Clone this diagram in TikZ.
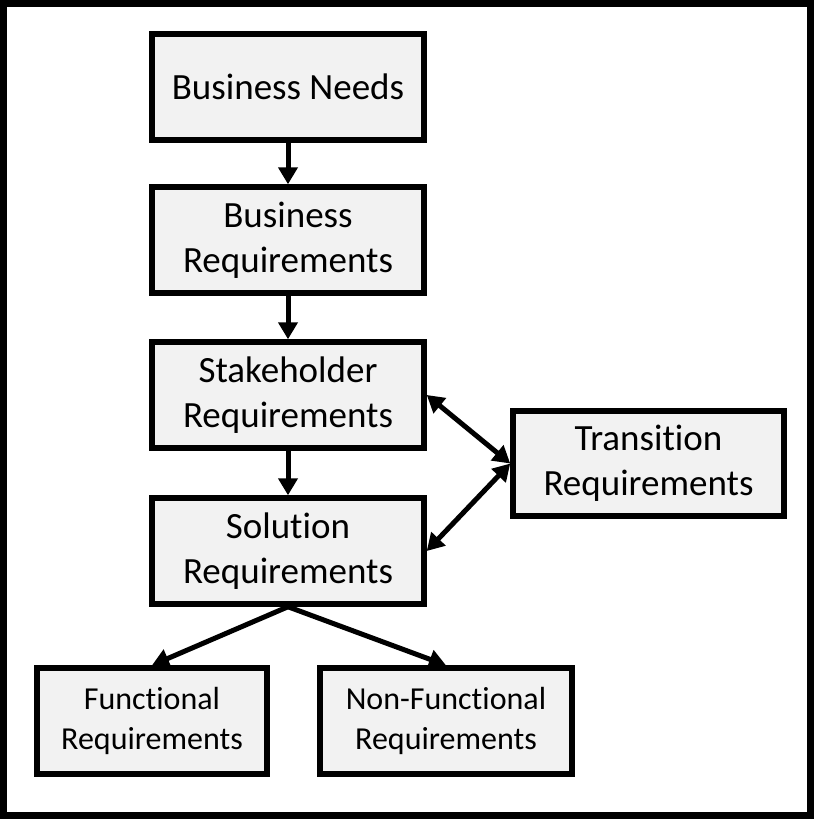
\documentclass[tikz,border=0pt]{standalone}
\usepackage{fontspec}
\setmainfont{Carlito}[Ligatures=NoCommon]
\usepackage{xcolor}
\usetikzlibrary{arrows.meta}
\definecolor{boxgray}{HTML}{F2F2F2}

\begin{document}
\begin{tikzpicture}[x=1pt,y=-1pt,
            box/.style={
                draw,
                line width=5.5pt,
                fill=boxgray,
                align=center,
                inner sep=0pt,
                minimum width=272pt,
                minimum height=106pt,
                font=\fontsize{37}{45}\selectfont
            },
            leaf/.style={box, font=\fontsize{32}{40}\selectfont},
            link/.style={line width=5pt, -{Triangle[length=17pt,width=19pt]}},
            twoway/.style={line width=5pt, {Triangle[length=17pt,width=19pt]}-{Triangle[length=17pt,width=19pt]}}]
            \useasboundingbox (0,0) rectangle (814,819);
            \draw[line width=6.5pt] (3.5,3.5) rectangle (810.5,815.5);
            % main chain
            \node[box] (bn) at (288,87)  {Business Needs};
            \node[box] (br) at (288,240) {Business\\Requirements};
            \node[box] (sh) at (288,395) {Stakeholder\\Requirements};
            \node[box] (so) at (288,551) {Solution\\Requirements};
            \node[box, minimum width=271pt, minimum height=105pt] (tr) at (648.5,463.5) {Transition\\Requirements};
            \node[leaf, minimum width=230pt] (fr) at (152,721) {Functional\\Requirements};
            \node[leaf, minimum width=252pt] (nf) at (446,721) {Non-Functional\\Requirements};
            \draw[link] (bn) -- (br);
            \draw[link] (br) -- (sh);
            \draw[link] (sh) -- (so);
            \draw[twoway] (sh.east) -- (tr.west);
            \draw[twoway] (tr.west) -- (so.east);
            \draw[link] (so.south) -- (fr.north);
            \draw[link] (so.south) -- (nf.north);
\end{tikzpicture}
\end{document}
